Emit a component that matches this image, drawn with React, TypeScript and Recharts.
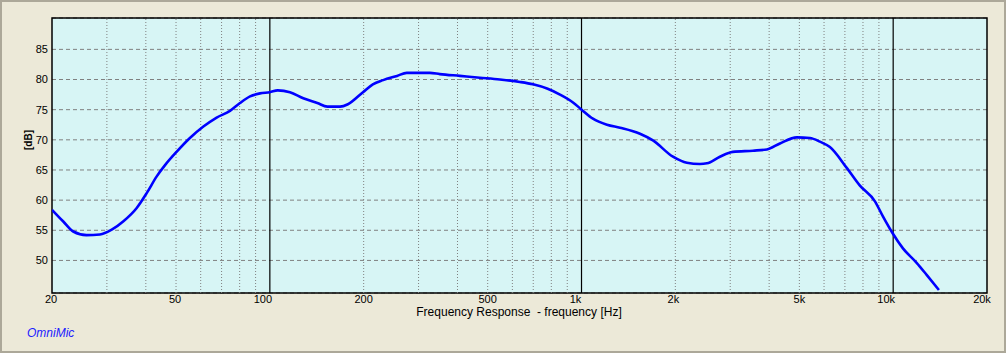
import React from "react";
import {
  CartesianGrid,
  Line,
  LineChart,
  ReferenceArea,
  ReferenceLine,
  XAxis,
  YAxis,
} from "recharts";

// Frequency response curve (Hz / dB)
const FREQS = [
  20, 21.7, 23.4, 25.8, 28.5, 31.1, 33.9, 37.4, 40.3, 43.3,
  46.1, 50.2, 55.4, 61.2, 67.5, 74.5, 80.2, 86.4, 93, 100,
  106, 116, 128, 142, 153, 168, 178, 199, 214, 231,
  256, 275, 326, 351, 407, 472, 547, 634, 699, 775,
  853, 939, 1001, 1088, 1207, 1329, 1540, 1695, 1965, 2178,
  2398, 2526, 2780, 3060, 3548, 3934, 4332, 4910, 5406, 5819,
  6266, 7106, 7822, 8740, 9270, 9960, 10748, 11892, 12806, 14020,
];

const DB = [
  58.4, 56.5, 54.8, 54.2, 54.3, 55.1, 56.5, 58.7, 61.2, 63.9,
  65.8, 68.0, 70.3, 72.2, 73.7, 74.8, 76.1, 77.2, 77.7, 77.9,
  78.2, 77.9, 76.9, 76.1, 75.5, 75.5, 75.9, 77.9, 79.2, 79.9,
  80.6, 81.1, 81.1, 80.9, 80.6, 80.3, 80.0, 79.6, 79.2, 78.5,
  77.5, 76.2, 75.0, 73.5, 72.5, 72.0, 71.0, 69.9, 67.2, 66.2,
  66.0, 66.1, 67.2, 68.0, 68.2, 68.4, 69.4, 70.4, 70.3, 69.7,
  68.8, 65.3, 62.4, 59.8, 57.3, 54.5, 52.0, 49.6, 47.6, 45.1,
];

const X_TICKS = [20, 50, 100, 200, 500, 1000, 2000, 5000, 10000, 20000];
const X_LABELS = ["20", "50", "100", "200", "500", "1k", "2k", "5k", "10k", "20k"];
const Y_TICKS = [50, 55, 60, 65, 70, 75, 80, 85];
const MINOR_FREQS = [
  30, 40, 50, 60, 70, 80, 90,
  200, 300, 400, 500, 600, 700, 800, 900,
  2000, 3000, 4000, 5000, 6000, 7000, 8000, 9000,
];
const DECADES = [100, 1000, 10000];

const X_DOMAIN: [number, number] = [20, 20000];
const Y_DOMAIN: [number, number] = [44.6, 90.2];

const FONT = "'Liberation Sans', Arial, sans-serif";
const BG = "#ece9d8";
const PLOT_BG = "#d7f5f5";
const GRID = "#808080";

const data = FREQS.map((f, i) => ({ f, db: DB[i] }));

// the original nudges some labels left of their tick
const LABEL_SHIFT: Record<string, number> = {
  "20": -1, "50": -1, "100": -7, "1k": -6, "2k": -2, "10k": -7, "20k": -5,
};

function FreqTick({ x, y, payload }: any) {
  const label = X_LABELS[X_TICKS.indexOf(payload.value)] ?? String(payload.value);
  return (
    <text
      x={x + (LABEL_SHIFT[label] ?? 0)}
      y={y}
      dy="0.71em"
      textAnchor="middle"
      fill="#000"
      fontSize={11}
      fontFamily={FONT}
    >
      {label}
    </text>
  );
}

export default function App() {
  return (
    <div
      style={{
        position: "absolute",
        left: 0,
        top: 0,
        width: 1006,
        height: 353,
        background: BG,
        boxShadow: "inset 0 0 0 2px #aca899",
        fontFamily: FONT,
      }}
    >
      <LineChart
        width={1006}
        height={353}
        data={data}
        margin={{ top: 18, right: 19, bottom: 0, left: 0 }}
      >
        <CartesianGrid
          fill={PLOT_BG}
          vertical={false}
          stroke={GRID}
          strokeDasharray="4 3"
        />
        <XAxis
          dataKey="f"
          type="number"
          scale="log"
          domain={X_DOMAIN}
          ticks={X_TICKS}
          allowDataOverflow
          height={60}
          tickLine={false}
          axisLine={false}
          tickSize={0}
          tickMargin={2}
          tick={<FreqTick />}
          interval={0}
        />
        <YAxis
          type="number"
          domain={Y_DOMAIN}
          ticks={Y_TICKS}
          allowDataOverflow
          width={52}
          tickLine={false}
          axisLine={false}
          tickSize={0}
          tickMargin={4}
          tick={{ fill: "#000", fontSize: 11, fontFamily: FONT }}
        />
        {MINOR_FREQS.map((f) => (
          <ReferenceLine key={f} x={f} stroke={GRID} strokeDasharray="1 2" />
        ))}
        {DECADES.map((f) => (
          <ReferenceLine key={f} x={f} stroke="#000" strokeWidth={1.2} />
        ))}
        <Line
          type="monotone"
          dataKey="db"
          stroke="#0000ff"
          strokeWidth={2.6}
          dot={false}
          isAnimationActive={false}
        />
        <ReferenceArea
          x1={X_DOMAIN[0]}
          x2={X_DOMAIN[1]}
          y1={Y_DOMAIN[0]}
          y2={Y_DOMAIN[1]}
          fill="none"
          fillOpacity={0}
          stroke="#000"
          strokeWidth={1.5}
        />
      </LineChart>
      <div
        style={{
          position: "absolute",
          left: 20,
          top: 140,
          transform: "translate(-50%, -50%) rotate(-90deg)",
          marginLeft: 8,
          fontSize: 10,
          fontWeight: "bold",
          whiteSpace: "nowrap",
          color: "#000",
        }}
      >
        [dB]
      </div>
      <div
        style={{
          position: "absolute",
          left: 519,
          top: 305,
          transform: "translateX(-50%)",
          fontSize: 12,
          whiteSpace: "pre",
          color: "#000",
        }}
      >
        {"Frequency Response  - frequency [Hz]"}
      </div>
      <div
        style={{
          position: "absolute",
          left: 27,
          top: 326,
          fontSize: 12,
          fontStyle: "italic",
          color: "#2020ff",
        }}
      >
        OmniMic
      </div>
    </div>
  );
}
